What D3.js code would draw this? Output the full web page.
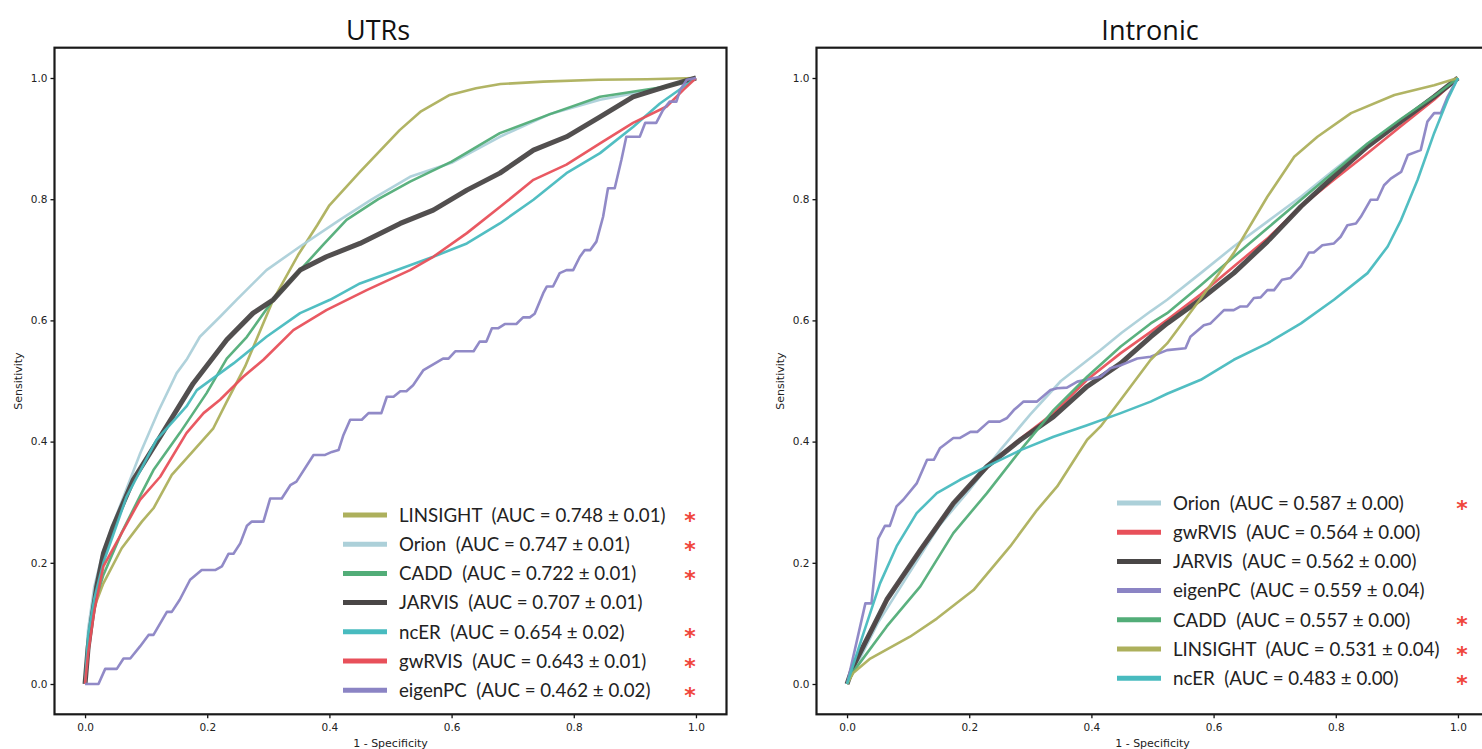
<!DOCTYPE html>
<html>
<head>
<meta charset="utf-8">
<script src="https://cdn.jsdelivr.net/npm/d3@7"></script>
<style>
  body { margin: 0; background: #fff; }
  svg { display: block; }
</style>
</head>
<body>
<div id="chart"></div>
<script>
// ---- data: [1 - specificity, sensitivity] ----
const utrLinsight = [[0,0],[0.005,0.07],[0.01,0.11],[0.02,0.14],[0.03,0.166],[0.06,0.224],[0.093,0.268],[0.112,0.29],[0.142,0.345],[0.164,0.37],[0.21,0.422],[0.232,0.466],[0.262,0.524],[0.308,0.634],[0.35,0.71],[0.38,0.757],[0.40,0.79],[0.45,0.845],[0.515,0.914],[0.55,0.945],[0.597,0.972],[0.64,0.983],[0.68,0.99],[0.75,0.994],[0.84,0.997],[0.92,0.998],[1,1]];
const utrOrion = [[0,0],[0.005,0.09],[0.015,0.16],[0.03,0.22],[0.052,0.28],[0.09,0.38],[0.12,0.45],[0.15,0.513],[0.166,0.535],[0.188,0.573],[0.221,0.606],[0.248,0.634],[0.297,0.683],[0.352,0.722],[0.417,0.766],[0.47,0.80],[0.532,0.837],[0.6,0.86],[0.679,0.903],[0.76,0.94],[0.843,0.964],[0.925,0.98],[1,1]];
const utrCadd = [[0,0],[0.005,0.07],[0.015,0.13],[0.03,0.18],[0.06,0.25],[0.09,0.31],[0.112,0.353],[0.155,0.414],[0.199,0.48],[0.232,0.537],[0.265,0.573],[0.308,0.634],[0.352,0.683],[0.39,0.725],[0.428,0.766],[0.48,0.80],[0.532,0.829],[0.6,0.862],[0.679,0.909],[0.76,0.94],[0.843,0.969],[0.952,0.986],[1,1]];
const utrJarvis = [[0,0],[0.005,0.06],[0.011,0.106],[0.019,0.16],[0.03,0.215],[0.046,0.26],[0.079,0.337],[0.123,0.408],[0.177,0.496],[0.232,0.568],[0.275,0.612],[0.308,0.634],[0.352,0.683],[0.395,0.705],[0.45,0.727],[0.516,0.76],[0.57,0.782],[0.625,0.815],[0.679,0.843],[0.734,0.881],[0.788,0.903],[0.843,0.936],[0.897,0.969],[0.952,0.986],[1,1]];
const utrNcer = [[0,0],[0.005,0.08],[0.015,0.14],[0.03,0.2],[0.068,0.309],[0.117,0.403],[0.166,0.458],[0.183,0.485],[0.243,0.529],[0.297,0.573],[0.352,0.612],[0.401,0.634],[0.45,0.661],[0.532,0.691],[0.57,0.705],[0.625,0.727],[0.679,0.76],[0.734,0.799],[0.788,0.843],[0.843,0.876],[0.897,0.919],[0.941,0.958],[1,1]];
const utrGwrvis = [[0,0],[0.005,0.05],[0.015,0.12],[0.03,0.194],[0.09,0.304],[0.123,0.342],[0.166,0.414],[0.194,0.447],[0.221,0.469],[0.259,0.507],[0.292,0.535],[0.341,0.584],[0.395,0.617],[0.461,0.65],[0.532,0.683],[0.57,0.705],[0.625,0.744],[0.679,0.787],[0.734,0.832],[0.788,0.857],[0.843,0.892],[0.897,0.926],[0.952,0.953],[0.979,0.98],[1,1]];
const utrEigenpc = [[0,0],[0.022,0],[0.033,0.025],[0.052,0.025],[0.063,0.042],[0.074,0.042],[0.09,0.062],[0.104,0.081],[0.112,0.081],[0.134,0.119],[0.142,0.119],[0.155,0.139],[0.172,0.172],[0.191,0.188],[0.213,0.188],[0.224,0.194],[0.235,0.215],[0.243,0.215],[0.254,0.232],[0.265,0.261],[0.273,0.268],[0.292,0.268],[0.303,0.306],[0.322,0.306],[0.336,0.328],[0.346,0.334],[0.374,0.378],[0.393,0.378],[0.404,0.383],[0.415,0.386],[0.423,0.411],[0.434,0.436],[0.453,0.436],[0.464,0.447],[0.485,0.447],[0.494,0.474],[0.505,0.474],[0.516,0.483],[0.526,0.483],[0.537,0.493],[0.554,0.518],[0.586,0.537],[0.595,0.537],[0.606,0.549],[0.636,0.549],[0.646,0.565],[0.657,0.565],[0.666,0.587],[0.676,0.587],[0.687,0.594],[0.706,0.594],[0.717,0.605],[0.728,0.605],[0.736,0.611],[0.75,0.645],[0.756,0.656],[0.766,0.656],[0.777,0.678],[0.788,0.683],[0.799,0.683],[0.81,0.705],[0.818,0.716],[0.827,0.716],[0.837,0.73],[0.848,0.771],[0.856,0.818],[0.867,0.818],[0.878,0.865],[0.886,0.903],[0.908,0.903],[0.917,0.926],[0.935,0.926],[0.946,0.947],[0.957,0.961],[0.968,0.961],[0.974,0.98],[0.985,0.997],[1,1]];

const intOrion = [[0,0],[0.05,0.10],[0.1,0.18],[0.15,0.26],[0.2,0.32],[0.25,0.385],[0.3,0.445],[0.35,0.5],[0.415,0.551],[0.45,0.58],[0.497,0.615],[0.524,0.634],[0.579,0.678],[0.633,0.722],[0.688,0.763],[0.743,0.804],[0.797,0.848],[0.852,0.892],[0.906,0.93],[0.961,0.97],[1,1]];
const intGwrvis = [[0,0],[0.01,0.029],[0.065,0.139],[0.12,0.221],[0.174,0.298],[0.229,0.359],[0.284,0.405],[0.338,0.447],[0.393,0.502],[0.448,0.546],[0.497,0.581],[0.524,0.601],[0.579,0.643],[0.633,0.689],[0.688,0.735],[0.743,0.788],[0.797,0.832],[0.852,0.876],[0.906,0.92],[0.961,0.964],[1,1]];
const intJarvis = [[0,0],[0.01,0.029],[0.065,0.139],[0.12,0.221],[0.174,0.298],[0.229,0.359],[0.284,0.403],[0.338,0.441],[0.393,0.491],[0.448,0.529],[0.497,0.573],[0.524,0.595],[0.579,0.635],[0.633,0.678],[0.688,0.73],[0.743,0.788],[0.797,0.838],[0.852,0.887],[0.906,0.928],[0.961,0.969],[1,1]];
const intEigenpc = [[0,0],[0.03,0.133],[0.04,0.133],[0.051,0.24],[0.062,0.261],[0.07,0.261],[0.081,0.293],[0.092,0.304],[0.114,0.331],[0.131,0.37],[0.142,0.37],[0.152,0.389],[0.174,0.406],[0.185,0.406],[0.202,0.416],[0.213,0.416],[0.232,0.433],[0.25,0.433],[0.262,0.439],[0.273,0.452],[0.289,0.466],[0.311,0.466],[0.333,0.485],[0.344,0.488],[0.36,0.489],[0.377,0.499],[0.415,0.507],[0.431,0.521],[0.448,0.526],[0.475,0.537],[0.497,0.54],[0.524,0.551],[0.554,0.554],[0.562,0.573],[0.584,0.592],[0.595,0.595],[0.617,0.617],[0.633,0.617],[0.644,0.623],[0.655,0.623],[0.666,0.637],[0.677,0.638],[0.688,0.65],[0.699,0.65],[0.712,0.667],[0.726,0.67],[0.743,0.689],[0.756,0.712],[0.764,0.712],[0.778,0.724],[0.797,0.727],[0.808,0.738],[0.819,0.757],[0.833,0.76],[0.841,0.771],[0.857,0.799],[0.868,0.799],[0.879,0.823],[0.89,0.834],[0.907,0.845],[0.918,0.873],[0.939,0.881],[0.95,0.928],[0.961,0.942],[0.972,0.942],[0.983,0.969],[1,1]];
const intCadd = [[0,0],[0.01,0.02],[0.065,0.095],[0.12,0.161],[0.174,0.249],[0.229,0.315],[0.284,0.386],[0.338,0.452],[0.393,0.507],[0.448,0.557],[0.497,0.595],[0.524,0.612],[0.579,0.658],[0.633,0.705],[0.688,0.752],[0.743,0.799],[0.797,0.845],[0.852,0.892],[0.906,0.932],[0.961,0.97],[1,1]];
const intLinsight = [[0,0],[0.01,0.018],[0.038,0.042],[0.103,0.078],[0.147,0.108],[0.207,0.155],[0.267,0.227],[0.311,0.287],[0.344,0.326],[0.393,0.403],[0.415,0.425],[0.448,0.469],[0.497,0.535],[0.524,0.562],[0.579,0.636],[0.633,0.711],[0.688,0.804],[0.732,0.87],[0.77,0.903],[0.825,0.942],[0.896,0.972],[0.961,0.988],[1,1]];
const intNcer = [[0,0],[0.027,0.084],[0.054,0.166],[0.081,0.227],[0.114,0.282],[0.147,0.315],[0.185,0.337],[0.229,0.359],[0.284,0.386],[0.338,0.408],[0.393,0.427],[0.448,0.447],[0.497,0.466],[0.524,0.479],[0.579,0.502],[0.633,0.535],[0.688,0.562],[0.743,0.595],[0.797,0.634],[0.852,0.678],[0.885,0.722],[0.907,0.766],[0.934,0.832],[0.961,0.909],[0.983,0.964],[1,1]];

// legend order, AUC text and significance mark per panel
const utrNames = ["LINSIGHT", "Orion", "CADD", "JARVIS", "ncER", "gwRVIS", "eigenPC"];
const utrAuc = ["0.748 ± 0.01", "0.747 ± 0.01", "0.722 ± 0.01", "0.707 ± 0.01", "0.654 ± 0.02", "0.643 ± 0.01", "0.462 ± 0.02"];
const utrStar = [true, true, true, false, true, true, true];
const utrCurves = [utrLinsight, utrOrion, utrCadd, utrJarvis, utrNcer, utrGwrvis, utrEigenpc];

const intNames = ["Orion", "gwRVIS", "JARVIS", "eigenPC", "CADD", "LINSIGHT", "ncER"];
const intAuc = ["0.587 ± 0.00", "0.564 ± 0.00", "0.562 ± 0.00", "0.559 ± 0.04", "0.557 ± 0.00", "0.531 ± 0.04", "0.483 ± 0.00"];
const intStar = [true, false, false, false, true, true, true];
const intCurves = [intOrion, intGwrvis, intJarvis, intEigenpc, intCadd, intLinsight, intNcer];

const tickValues = [0, 0.2, 0.4, 0.6, 0.8, 1.0];

const COLORS = {
    "LINSIGHT": "#adb05c",
    "Orion": "#acd0d9",
    "CADD": "#52ad78",
    "JARVIS": "#494646",
    "ncER": "#48bbbf",
    "gwRVIS": "#e8505a",
    "eigenPC": "#8b84c4"
};

const W = 1482, H = 749;

const svg = d3.select("#chart")
    .append("svg")
    .attr("width", W)
    .attr("height", H);

function drawPanel(p)
{
    const x = d3.scaleLinear().domain([-0.05, 1.05]).range([p.left, p.left + 672]);
    const y = d3.scaleLinear().domain([-0.05, 1.05]).range([714.3, 47.7]);

    const g = svg.append("g");

    // curves
    const line = d3.line()
        .x(d => x(d[0]))
        .y(d => y(d[1]));

    p.names.forEach(function (name, i) {
        g.append("path")
            .datum(p.curves[i])
            .attr("d", line)
            .style("fill", "none")
            .style("stroke", COLORS[name])
            .style("stroke-width", name === "JARVIS" ? 5 : 2.6)
            .style("stroke-linejoin", "round")
            .style("opacity", 0.95);
    });

    // axes
    const xAxis = g.append("g")
        .attr("transform", `translate(0,${y(-0.05)})`)
        .call(d3.axisBottom(x).tickValues(tickValues).tickFormat(d3.format(".1f")).tickSize(4).tickSizeOuter(0));
    const yAxis = g.append("g")
        .attr("transform", `translate(${x(-0.05)},0)`)
        .call(d3.axisLeft(y).tickValues(tickValues).tickFormat(d3.format(".1f")).tickSize(4).tickSizeOuter(0));

    [xAxis, yAxis].forEach(function (a) {
        a.select(".domain").remove();
        a.selectAll(".tick line").style("stroke", "#111").style("stroke-width", 1.3);
        a.selectAll(".tick text")
            .style("font-family", "DejaVu Sans")
            .style("font-size", "10.5px")
            .style("fill", "#222");
    });
    xAxis.selectAll(".tick text").attr("dy", "0.9em");

    // frame
    g.append("rect")
        .attr("x", x(-0.05))
        .attr("y", y(1.05))
        .attr("width", x(1.05) - x(-0.05))
        .attr("height", y(-0.05) - y(1.05))
        .style("fill", "none")
        .style("stroke", "#1a1a1a")
        .style("stroke-width", 2.2);

    // axis titles
    g.append("text")
        .attr("x", x(0.5))
        .attr("y", 747)
        .attr("text-anchor", "middle")
        .style("font-family", "DejaVu Sans")
        .style("font-size", "11px")
        .style("fill", "#222")
        .text("1 - Specificity");

    g.append("text")
        .attr("transform", `translate(${p.left - 33},${y(0.5)}) rotate(-90)`)
        .attr("text-anchor", "middle")
        .style("font-family", "DejaVu Sans")
        .style("font-size", "11px")
        .style("fill", "#222")
        .text("Sensitivity");

    g.append("text")
        .attr("x", p.titleX)
        .attr("y", 40)
        .attr("text-anchor", "middle")
        .style("font-family", "Open Sans")
        .style("font-size", "27px")
        .style("fill", "#111")
        .text(p.title);

    // legend
    const lg = g.append("g");
    p.names.forEach(function (name, i) {
        const ry = p.legendY + i * 29.2;
        lg.append("line")
            .attr("x1", p.legendX)
            .attr("x2", p.legendX + 44)
            .attr("y1", ry)
            .attr("y2", ry)
            .style("stroke", COLORS[name])
            .style("stroke-width", 5);
        lg.append("text")
            .attr("x", p.legendX + 56)
            .attr("y", ry)
            .attr("dy", "0.36em")
            .style("font-family", "Lato")
            .style("font-size", "18.7px")
            .style("fill", "#222")
            .text(`${name}\u00a0 (AUC = ${p.auc[i]})`);
        if (p.star[i]) {
            lg.append("text")
                .attr("x", p.starX)
                .attr("y", ry + 12.5)
                .attr("text-anchor", "middle")
                .style("font-family", "DejaVu Sans")
                .style("font-weight", "bold")
                .style("font-size", "22px")
                .style("fill", "#f0463c")
                .text("*");
        }
    });
}

drawPanel({
    left: 54.5, title: "UTRs", titleX: 378,
    names: utrNames, auc: utrAuc, star: utrStar, curves: utrCurves,
    legendX: 343, legendY: 515, starX: 690
});

drawPanel({
    left: 816.5, title: "Intronic", titleX: 1150,
    names: intNames, auc: intAuc, star: intStar, curves: intCurves,
    legendX: 1117, legendY: 503, starX: 1462
});
</script>
</body>
</html>
